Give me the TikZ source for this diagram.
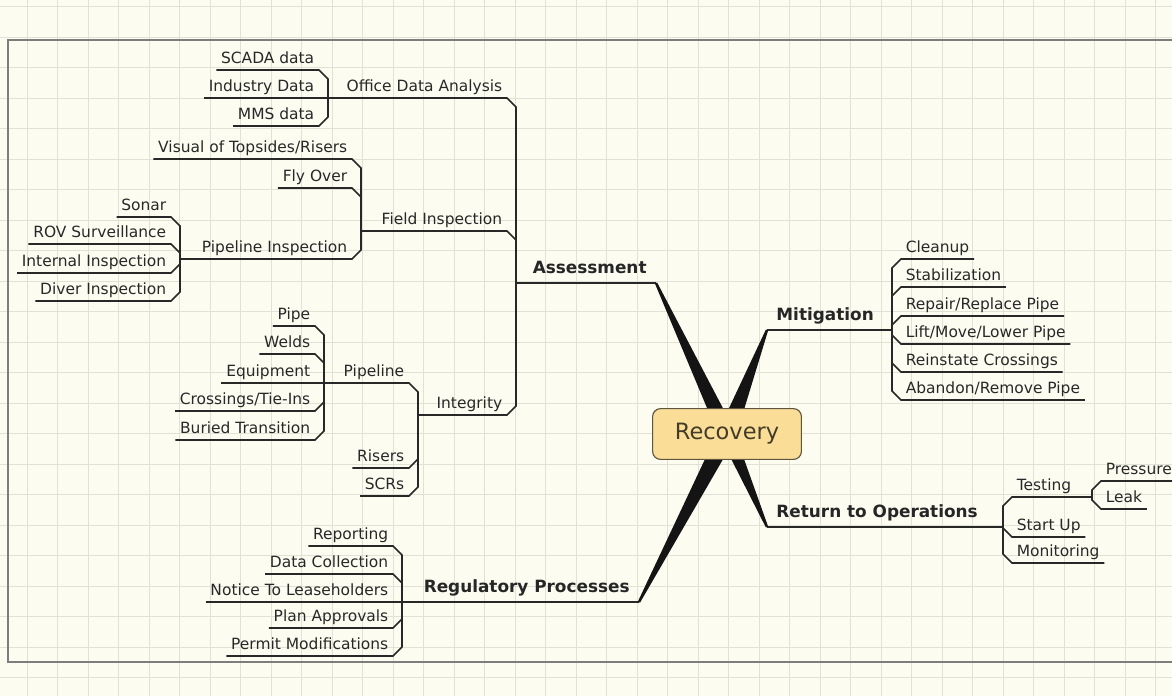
\documentclass[tikz,border=0pt]{standalone}
\usepackage{fontspec}
\setmainfont{DejaVu Sans}
\usepackage{tikz}
\usetikzlibrary{calc}
\definecolor{paper}{RGB}{252,252,241}
\definecolor{gridgrey}{RGB}{224,226,214}
\definecolor{framegrey}{RGB}{125,125,125}
\definecolor{inkgrey}{RGB}{40,40,40}
\definecolor{hubfill}{RGB}{250,222,152}
\definecolor{hubdraw}{RGB}{95,85,60}
\definecolor{hubtext}{RGB}{68,60,40}
\tikzset{
  topic/.style={
    font=\fontsize{11}{13}\selectfont, text=inkgrey,
    inner xsep=3.2pt, inner ysep=1.5pt, text height=8pt, text depth=2.6pt
  },
  maintopic/.style={
    font=\fontsize{12}{14}\selectfont\bfseries, text=black!85,
    inner xsep=6.5pt, inner ysep=3.5pt, text height=9pt, text depth=3pt
  },
  central/.style={
    rectangle, rounded corners=2mm, minimum width=37.2mm, minimum height=12.7mm,
    draw=hubdraw, fill=hubfill, line width=0.8pt,
    font=\fontsize{16}{19}\selectfont, text=hubtext
  },
  branch/.style={draw=inkgrey, line width=1.1pt},
  wedge/.style={fill=black!92},
  gridline/.style={draw=gridgrey, line width=0.6pt}
}

\begin{document}
\begin{tikzpicture}[x=0.25mm, y=-0.25mm]
\useasboundingbox (0,0) rectangle (1172,696);
\clip (0,0) rectangle (1172,696);
\fill[paper] (0,0) rectangle (1172,696);
\foreach \i in {0,...,37}
  \draw[gridline] ({27+30.5*\i},0) -- ({27+30.5*\i},696);
\foreach \j in {0,...,22}
  \draw[gridline] (0,{6.5+30.5*\j}) -- (1172,{6.5+30.5*\j});
\draw[framegrey, line width=0.8pt] (1180,40) -- (8,40) -- (8,662) -- (1180,662);

% main topics
\node[maintopic, anchor=south east] (assess) at (656,283) {Assessment};
\node[maintopic, anchor=south west] (mitig) at (767,330) {Mitigation};
\node[maintopic, anchor=south west] (ret) at (767,527) {Return to Operations};
\node[maintopic, anchor=south east] (reg) at (639,602) {Regulatory Processes};
\coordinate (assessJ) at (516,283);
\coordinate (mitigJ) at (892,330);
\coordinate (retJ) at (1003,527);
\coordinate (regJ) at (402,602);

% Assessment
\node[topic, anchor=south east] (office) at (507,98) {Office Data Analysis};
\coordinate (officeJ) at (328,98);
\node[topic, anchor=south east] (scada) at (319,70) {SCADA data};
\node[topic, anchor=south east] (industry) at (319,98) {Industry Data};
\node[topic, anchor=south east] (mms) at (319,126) {MMS data};

\node[topic, anchor=south east] (field) at (507,231) {Field Inspection};
\coordinate (fieldJ) at (361,231);
\node[topic, anchor=south east] (visual) at (352,159) {Visual of Topsides/Risers};
\node[topic, anchor=south east] (flyover) at (352,188) {Fly Over};
\node[topic, anchor=south east] (pipeinsp) at (352,259) {Pipeline Inspection};
\coordinate (pipeinspJ) at (180,259);
\node[topic, anchor=south east] (sonar) at (171,217) {Sonar};
\node[topic, anchor=south east] (rov) at (171,244) {ROV Surveillance};
\node[topic, anchor=south east] (internal) at (171,273) {Internal Inspection};
\node[topic, anchor=south east] (diver) at (171,301) {Diver Inspection};

\node[topic, anchor=south east] (integrity) at (507,415) {Integrity};
\coordinate (integrityJ) at (418,415);
\node[topic, anchor=south east] (pipeline) at (409,383) {Pipeline};
\coordinate (pipelineJ) at (324,383);
\node[topic, anchor=south east] (pipe) at (315,326) {Pipe};
\node[topic, anchor=south east] (welds) at (315,354) {Welds};
\node[topic, anchor=south east] (equipment) at (315,383) {Equipment};
\node[topic, anchor=south east] (crossings) at (315,411) {Crossings/Tie-Ins};
\node[topic, anchor=south east] (buried) at (315,440) {Buried Transition};
\node[topic, anchor=south east] (risers) at (409,468) {Risers};
\node[topic, anchor=south east] (scrs) at (409,496) {SCRs};

\draw[branch] (scada.south west) -- (scada.south east) -- ++(9,9) |- (officeJ);
\draw[branch] (industry.south west) -- (officeJ);
\draw[branch] (mms.south west) -- (mms.south east) -- ++(9,-9) |- (officeJ);
\draw[branch] (officeJ) -- (office.south east) -- ++(9,9) |- (assessJ);

\draw[branch] (visual.south west) -- (visual.south east) -- ++(9,9) |- (fieldJ);
\draw[branch] (flyover.south west) -- (flyover.south east) -- ++(9,9) |- (fieldJ);
\draw[branch] (sonar.south west) -- (sonar.south east) -- ++(9,9) |- (pipeinspJ);
\draw[branch] (rov.south west) -- (rov.south east) -- ++(9,9) |- (pipeinspJ);
\draw[branch] (internal.south west) -- (internal.south east) -- ++(9,-9) |- (pipeinspJ);
\draw[branch] (diver.south west) -- (diver.south east) -- ++(9,-9) |- (pipeinspJ);
\draw[branch] (pipeinspJ) -- (pipeinsp.south east) -- ++(9,-9) |- (fieldJ);
\draw[branch] (fieldJ) -- (field.south east) -- ++(9,9) |- (assessJ);

\draw[branch] (pipe.south west) -- (pipe.south east) -- ++(9,9) |- (pipelineJ);
\draw[branch] (welds.south west) -- (welds.south east) -- ++(9,9) |- (pipelineJ);
\draw[branch] (equipment.south west) -- (pipelineJ);
\draw[branch] (crossings.south west) -- (crossings.south east) -- ++(9,-9) |- (pipelineJ);
\draw[branch] (buried.south west) -- (buried.south east) -- ++(9,-9) |- (pipelineJ);
\draw[branch] (pipelineJ) -- (pipeline.south east) -- ++(9,9) |- (integrityJ);
\draw[branch] (risers.south west) -- (risers.south east) -- ++(9,-9) |- (integrityJ);
\draw[branch] (scrs.south west) -- (scrs.south east) -- ++(9,-9) |- (integrityJ);
\draw[branch] (integrityJ) -- (integrity.south east) -- ++(9,-9) |- (assessJ);
\draw[branch] (assessJ) -- (assess.south east);

% Regulatory Processes
\node[topic, anchor=south east] (reporting) at (393,546) {Reporting};
\node[topic, anchor=south east] (datacoll) at (393,574) {Data Collection};
\node[topic, anchor=south east] (notice) at (393,602) {Notice To Leaseholders};
\node[topic, anchor=south east] (planappr) at (393,628) {Plan Approvals};
\node[topic, anchor=south east] (permit) at (393,656) {Permit Modifications};

\draw[branch] (reporting.south west) -- (reporting.south east) -- ++(9,9) |- (regJ);
\draw[branch] (datacoll.south west) -- (datacoll.south east) -- ++(9,9) |- (regJ);
\draw[branch] (notice.south west) -- (regJ);
\draw[branch] (planappr.south west) -- (planappr.south east) -- ++(9,-9) |- (regJ);
\draw[branch] (permit.south west) -- (permit.south east) -- ++(9,-9) |- (regJ);
\draw[branch] (regJ) -- (reg.south east);

% Mitigation
\node[topic, anchor=south west] (cleanup) at (901,259) {Cleanup};
\node[topic, anchor=south west] (stabil) at (901,287) {Stabilization};
\node[topic, anchor=south west] (repair) at (901,316) {Repair/Replace Pipe};
\node[topic, anchor=south west] (lift) at (901,344) {Lift/Move/Lower Pipe};
\node[topic, anchor=south west] (reinstate) at (901,372) {Reinstate Crossings};
\node[topic, anchor=south west] (abandon) at (901,400) {Abandon/Remove Pipe};

\draw[branch] (mitig.south west) -- (mitigJ);
\draw[branch] (cleanup.south east) -- (cleanup.south west) -- ++(-9,9) |- (mitigJ);
\draw[branch] (stabil.south east) -- (stabil.south west) -- ++(-9,9) |- (mitigJ);
\draw[branch] (repair.south east) -- (repair.south west) -- ++(-9,9) |- (mitigJ);
\draw[branch] (lift.south east) -- (lift.south west) -- ++(-9,-9) |- (mitigJ);
\draw[branch] (reinstate.south east) -- (reinstate.south west) -- ++(-9,-9) |- (mitigJ);
\draw[branch] (abandon.south east) -- (abandon.south west) -- ++(-9,-9) |- (mitigJ);

% Return to Operations
\node[topic, anchor=south west] (testing) at (1012,497) {Testing};
\coordinate (testingJ) at (1092,497);
\node[topic, anchor=south west] (pressure) at (1101,481) {Pressure};
\node[topic, anchor=south west] (leak) at (1101,509) {Leak};
\node[topic, anchor=south west] (startup) at (1012,537) {Start Up};
\node[topic, anchor=south west] (monitoring) at (1012,563) {Monitoring};

\draw[branch] (ret.south west) -- (retJ);
\draw[branch] (pressure.south east) -- (pressure.south west) -- ++(-9,9) |- (testingJ);
\draw[branch] (leak.south east) -- (leak.south west) -- ++(-9,-9) |- (testingJ);
\draw[branch] (testingJ) -- (testing.south west) -- ++(-9,9) |- (retJ);
\draw[branch] (startup.south east) -- (startup.south west) -- ++(-9,-9) |- (retJ);
\draw[branch] (monitoring.south east) -- (monitoring.south west) -- ++(-9,-9) |- (retJ);

% centre
\coordinate (hub) at (727,434);
\foreach \e/\w in {assess.south east/2.1mm, mitig.south west/2.3mm,
                   ret.south west/1.9mm, reg.south east/2.3mm}
  \fill[wedge] ($(hub)!\w!90:(\e)$) -- ($(\e)!0.3mm!-90:(hub)$)
    -- ($(\e)!0.3mm!90:(hub)$) -- ($(hub)!\w!-90:(\e)$) -- cycle;
\node[central] (recovery) at (hub) {Recovery};
\end{tikzpicture}
\end{document}
